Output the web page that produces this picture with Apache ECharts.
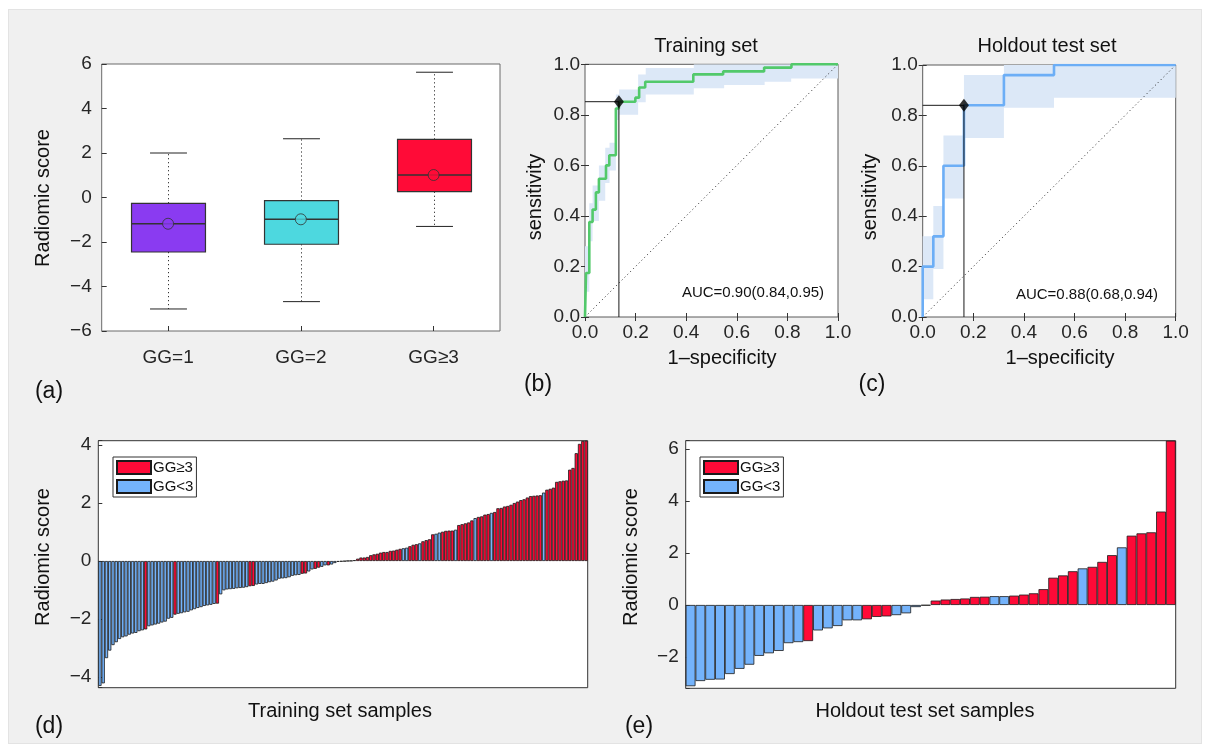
<!DOCTYPE html>
<html>
<head>
<meta charset="utf-8">
<script src="https://cdn.jsdelivr.net/npm/echarts@6/dist/echarts.min.js"></script>
<style>
  html, body { margin: 0; padding: 0; background: #ffffff; }
  #bg { position: absolute; left: 8px; top: 9px; width: 1194px; height: 735px; background: #F0F0F0; border: 1px solid #E3E3E3; box-sizing: border-box; }
  #chart { position: absolute; left: 0; top: 0; width: 1210px; height: 751px; }
</style>
</head>
<body>
<div id="bg"></div>
<div id="chart"></div>
<script>
// ---------------- DATA ----------------
// (a) box plot
const boxCats = ['GG=1', 'GG=2', 'GG≥3'];
const boxLow = [-5.01, -4.68, -1.30];
const boxQ1 = [-2.45, -2.10, 0.26];
const boxMedian = [-1.18, -0.98, 1.01];
const boxQ3 = [-0.26, -0.14, 2.61];
const boxHigh = [2.00, 2.64, 5.63];
const boxMean = [-1.18, -0.98, 1.01];
const boxTicks = [-6, -4, -2, 0, 2, 4, 6];

// (b) training ROC (staircase vertices)
const fprTrain = [0, 0.004, 0.004, 0.017, 0.017, 0.030, 0.030, 0.043, 0.043, 0.055, 0.055, 0.083, 0.083, 0.096, 0.096, 0.122, 0.122, 0.134, 0.134, 0.199, 0.199, 0.214, 0.214, 0.238, 0.238, 0.428, 0.428, 0.546, 0.546, 0.708, 0.708, 0.816, 0.816, 1.0];
const tprTrain = [0, 0, 0.174, 0.174, 0.376, 0.376, 0.425, 0.425, 0.493, 0.493, 0.547, 0.547, 0.600, 0.600, 0.640, 0.640, 0.825, 0.825, 0.852, 0.852, 0.868, 0.868, 0.908, 0.908, 0.931, 0.931, 0.960, 0.960, 0.972, 0.972, 0.987, 0.987, 1.0, 1.0];
const bandTrainX = [0, 0.017, 0.030, 0.055, 0.080, 0.097, 0.122, 0.135, 0.210, 0.240, 0.430, 0.550, 0.710, 0.815, 1.0];
const bandTrainLow = [0.10, 0.30, 0.38, 0.46, 0.53, 0.58, 0.78, 0.80, 0.85, 0.88, 0.905, 0.918, 0.931, 0.944];
const bandTrainHigh = [0.28, 0.45, 0.52, 0.60, 0.67, 0.69, 0.88, 0.90, 0.96, 0.985, 1.0, 1.0, 1.0, 1.0];
const cutTrain = [0.134, 0.852];
const aucTrain = 'AUC=0.90(0.84,0.95)';

// (c) holdout ROC
const fprTest = [0, 0, 0.042, 0.042, 0.082, 0.082, 0.163, 0.163, 0.321, 0.321, 0.519, 0.519, 1.0];
const tprTest = [0, 0.20, 0.20, 0.32, 0.32, 0.60, 0.60, 0.84, 0.84, 0.96, 0.96, 1.0, 1.0];
const bandTestX = [0, 0.042, 0.082, 0.163, 0.321, 0.519, 1.0];
const bandTestLow = [0.07, 0.19, 0.47, 0.71, 0.83, 0.87];
const bandTestHigh = [0.32, 0.44, 0.72, 0.96, 1.0, 1.0];
const cutTest = [0.163, 0.84];
const aucTest = 'AUC=0.88(0.68,0.94)';
const rocTicks = [0, 0.2, 0.4, 0.6, 0.8, 1.0];

// (d) training set samples: radiomic score, 1 = GG≥3, 0 = GG<3
const trainScore = [
 -4.31, -4.22, -3.35, -3.09, -2.90, -2.80, -2.69, -2.63, -2.60, -2.54,
 -2.50, -2.48, -2.42, -2.39, -2.36, -2.25, -2.22, -2.19, -2.16, -2.12,
 -2.09, -1.99, -1.96, -1.85, -1.82, -1.80, -1.77, -1.75, -1.70, -1.66,
 -1.62, -1.59, -1.55, -1.53, -1.51, -1.48, -1.47, -1.15, -1.01, -0.98,
 -0.97, -0.96, -0.94, -0.93, -0.92, -0.90, -0.87, -0.86, -0.81, -0.79,
 -0.79, -0.76, -0.73, -0.71, -0.67, -0.61, -0.60, -0.59, -0.56, -0.51,
 -0.49, -0.48, -0.44, -0.43, -0.36, -0.29, -0.27, -0.23, -0.20, -0.15,
 -0.15, -0.12, -0.07, -0.03, -0.02, -0.01, 0.005, 0.01, 0.03, 0.08,
 0.12, 0.12, 0.14, 0.20, 0.23, 0.25, 0.29, 0.31, 0.31, 0.35,
 0.36, 0.39, 0.42, 0.44, 0.46, 0.51, 0.56, 0.58, 0.61, 0.68,
 0.72, 0.75, 0.92, 0.94, 0.98, 1.01, 1.04, 1.05, 1.05, 1.08,
 1.24, 1.27, 1.30, 1.33, 1.40, 1.48, 1.52, 1.54, 1.60, 1.62,
 1.66, 1.69, 1.82, 1.83, 1.88, 1.90, 1.94, 2.00, 2.05, 2.10,
 2.13, 2.19, 2.24, 2.25, 2.26, 2.27, 2.36, 2.46, 2.49, 2.53,
 2.73, 2.75, 2.77, 2.78, 3.15, 3.21, 3.72, 4.04, 4.14, 4.15
];
const trainHigh = [
 0,0,0,0,0,0,0,0,0,0,
 0,0,0,0,1,0,0,0,0,0,
 0,0,0,1,0,0,0,0,0,0,
 0,0,0,0,0,0,1,0,0,0,
 0,0,0,0,0,0,1,1,0,0,
 0,0,0,0,0,0,0,0,0,0,
 0,0,1,1,0,0,1,1,0,0,
 1,0,0,0,0,0,1,1,1,1,
 1,1,1,1,1,1,1,1,1,1,
 1,1,1,0,0,1,1,1,0,1,
 1,1,1,0,0,1,1,1,1,0,
 1,1,1,1,1,0,1,1,1,1,
 0,1,1,1,1,1,1,1,1,1,
 1,1,1,1,1,1,0,1,1,1,
 1,1,1,1,1,1,1,1,1,1
];
const trainYMin = -4.37, trainYMax = 4.15;

// (e) holdout test set samples
const testScore = [
 -3.13, -2.93, -2.88, -2.87, -2.66, -2.46, -2.30, -1.96, -1.86, -1.77,
 -1.47, -1.43, -1.39, -0.98, -0.90, -0.81, -0.59, -0.59, -0.55, -0.46,
 -0.44, -0.39, -0.32, -0.08, -0.02, 0.17, 0.21, 0.23, 0.25, 0.31,
 0.32, 0.34, 0.34, 0.36, 0.40, 0.45, 0.61, 1.05, 1.14, 1.30,
 1.41, 1.47, 1.66, 1.92, 2.22, 2.67, 2.76, 2.80, 3.60, 6.33
];
const testHigh = [
 0,0,0,0,0,0,0,0,0,0,
 0,0,1,0,0,0,0,0,1,1,
 1,0,0,0,0,1,1,1,1,1,
 1,0,0,1,1,1,1,1,1,1,
 0,1,1,1,0,1,1,1,1,1
];
const testYMin = -3.21, testYMax = 6.33;

const legendNames = ['GG≥3', 'GG<3'];

// ---------------- STYLE ----------------
const FONT = '"Liberation Sans", Arial, Helvetica, sans-serif';
const TXT = '#262626';
const boxColors = ['#8A3BF1', '#4DD8DF', '#FF0B37'];
const RED = '#FF0A37', BLUE = '#74B3FB';
const BAND = '#DCE8F7';
const GREEN = '#52C96B', LINEBLUE = '#6CAEF6';

function minusFmt(v) { return v < 0 ? '\u2212' + Math.abs(v) : String(v); }
function evenOnly(v) {
  const r = Math.round(v);
  return (Math.abs(v - r) < 1e-6 && r % 2 === 0) ? minusFmt(r) : '';
}

const chart = echarts.init(document.getElementById('chart'), null, { renderer: 'canvas' });

function frameGrid(left, top, width, height, border) {
  return { left, top, width, height, show: true, backgroundColor: '#ffffff',
           borderColor: border, borderWidth: 1, containLabel: false, outerBoundsMode: 'none' };
}
const grids = [
  frameGrid(101.7, 64, 398.3, 267, '#6a6a6a'),
  frameGrid(585, 64.3, 253, 252.7, '#5a5a5a'),
  frameGrid(922.7, 65, 253, 252, '#5a5a5a'),
  frameGrid(98.3, 440.7, 489.4, 247, '#333333'),
  frameGrid(685.7, 440.7, 490, 247.6, '#333333')
];

const tickIn = (len, color) => ({ show: true, inside: true, length: len, lineStyle: { color: color || '#333', width: 1 } });
const lbl = (extra) => Object.assign({ fontSize: 19, color: TXT, fontFamily: FONT }, extra);

function rocX(gi, pos, showLbl) {
  return { type: 'value', gridIndex: gi, position: pos, min: 0, max: 1, interval: 0.2,
    axisLine: { show: false }, axisTick: tickIn(4),
    axisLabel: showLbl ? lbl({ margin: 6, formatter: v => v.toFixed(1) }) : { show: false },
    splitLine: { show: false } };
}
function rocY(gi, pos, showLbl) {
  return { type: 'value', gridIndex: gi, position: pos, min: 0, max: 1, interval: 0.2,
    axisLine: { show: false }, axisTick: tickIn(4),
    axisLabel: showLbl ? lbl({ margin: 5, formatter: v => v.toFixed(1) }) : { show: false },
    splitLine: { show: false } };
}

const xAxes = [
  { type: 'category', gridIndex: 0, data: boxCats, boundaryGap: true,
    axisLine: { show: false, onZero: false }, axisTick: Object.assign(tickIn(5), { alignWithLabel: true }),
    axisLabel: lbl({ margin: 17 }), splitLine: { show: false } },
  rocX(1, 'bottom', true), rocX(1, 'top', false),
  rocX(2, 'bottom', true), rocX(2, 'top', false),
  { type: 'category', gridIndex: 3, data: trainScore.map((v, i) => i + 1),
    axisLine: { show: false, onZero: false }, axisTick: { show: false }, axisLabel: { show: false }, splitLine: { show: false } },
  { type: 'category', gridIndex: 4, data: testScore.map((v, i) => i + 1),
    axisLine: { show: false, onZero: false }, axisTick: { show: false }, axisLabel: { show: false }, splitLine: { show: false } }
];
const yAxes = [
  { type: 'value', gridIndex: 0, min: boxTicks[0], max: boxTicks[boxTicks.length - 1], interval: 2,
    axisLine: { show: false }, axisTick: tickIn(5), axisLabel: lbl({ margin: 10, formatter: minusFmt }), splitLine: { show: false } },
  rocY(1, 'left', true), rocY(1, 'right', false),
  rocY(2, 'left', true), rocY(2, 'right', false),
  { type: 'value', gridIndex: 3, min: trainYMin, max: trainYMax, splitNumber: 4,
    axisLine: { show: false }, axisTick: tickIn(4), axisLabel: lbl({ margin: 7, formatter: evenOnly, showMinLabel: true, showMaxLabel: true }), splitLine: { show: false } },
  { type: 'value', gridIndex: 4, min: testYMin, max: testYMax, splitNumber: 5,
    axisLine: { show: false }, axisTick: tickIn(4), axisLabel: lbl({ margin: 7, formatter: evenOnly, showMinLabel: true, showMaxLabel: true }), splitLine: { show: false } }
];

// ---- box plot (custom) ----
function renderBox(params, api) {
  const i = params.dataIndex;
  const lo = api.coord([i, api.value(1)]);
  const q1 = api.coord([i, api.value(2)]);
  const md = api.coord([i, api.value(3)]);
  const q3 = api.coord([i, api.value(4)]);
  const hi = api.coord([i, api.value(5)]);
  const band = api.size([1, 0])[0];
  const bw = band * 0.557, cw = band * 0.278;
  const cx = Math.round(md[0]) + 0.5;
  const dash = { stroke: '#333', lineWidth: 1, lineDash: [1.2, 2.8] };
  const solid = { stroke: '#222', lineWidth: 1 };
  return { type: 'group', children: [
    { type: 'line', shape: { x1: cx, y1: q3[1], x2: cx, y2: hi[1] }, style: dash },
    { type: 'line', shape: { x1: cx, y1: q1[1], x2: cx, y2: lo[1] }, style: dash },
    { type: 'line', shape: { x1: cx - cw / 2, y1: hi[1], x2: cx + cw / 2, y2: hi[1] }, style: solid },
    { type: 'line', shape: { x1: cx - cw / 2, y1: lo[1], x2: cx + cw / 2, y2: lo[1] }, style: solid },
    { type: 'rect', shape: { x: cx - bw / 2, y: q3[1], width: bw, height: q1[1] - q3[1] },
      style: { fill: boxColors[i], stroke: '#333', lineWidth: 1.2 } },
    { type: 'line', shape: { x1: cx - bw / 2, y1: md[1], x2: cx + bw / 2, y2: md[1] }, style: { stroke: '#333', lineWidth: 1.5 } }
  ] };
}

function makeBand(xs, low, high, color) {
  return function (params, api) {
    const pts = [];
    for (let i = 0; i < low.length; i++) {
      pts.push(api.coord([xs[i], high[i]]), api.coord([xs[i + 1], high[i]]));
    }
    for (let i = low.length - 1; i >= 0; i--) {
      pts.push(api.coord([xs[i + 1], low[i]]), api.coord([xs[i], low[i]]));
    }
    return { type: 'polygon', shape: { points: pts }, style: { fill: color } };
  };
}

function rocSeries(xi, yi, fpr, tpr, bx, bl, bh, cut, color) {
  return [
    { type: 'custom', xAxisIndex: xi, yAxisIndex: yi, data: [[0, 0]], encode: { x: 0, y: 1 },
      renderItem: makeBand(bx, bl, bh, BAND), z: 1, silent: true, clip: true },
    { type: 'line', xAxisIndex: xi, yAxisIndex: yi, data: [[0, 0], [1, 1]], symbol: 'none',
      lineStyle: { color: '#222', width: 1, type: [1, 3] }, z: 2, silent: true },
    { type: 'line', xAxisIndex: xi, yAxisIndex: yi, data: fpr.map((x, i) => [x, tpr[i]]), symbol: 'none',
      lineStyle: { color: color, width: 2.6 }, z: 3, silent: true, clip: true },
    { type: 'line', xAxisIndex: xi, yAxisIndex: yi, data: [[0, cut[1]], [cut[0], cut[1]], [cut[0], 0]], symbol: 'none',
      lineStyle: { color: '#1a1a1a', width: 1 }, z: 4, silent: true },
    { type: 'scatter', xAxisIndex: xi, yAxisIndex: yi, data: [cut], symbol: 'diamond', symbolSize: [10, 13],
      itemStyle: { color: '#000' }, z: 5, silent: true }
  ];
}

function barSeries(xi, yi, scores, groups) {
  const common = { type: 'bar', xAxisIndex: xi, yAxisIndex: yi, barGap: '-100%', barCategoryGap: '0%', silent: true };
  return [
    Object.assign({}, common, { name: legendNames[0],
      data: scores.map((v, i) => groups[i] === 1 ? v : '-'),
      itemStyle: { color: RED, borderColor: '#1a1a1a', borderWidth: 0.8 } }),
    Object.assign({}, common, { name: legendNames[1],
      data: scores.map((v, i) => groups[i] === 0 ? v : '-'),
      itemStyle: { color: BLUE, borderColor: '#1a1a1a', borderWidth: 0.8 } })
  ];
}

function legendAt(left, top) {
  return { data: legendNames, orient: 'vertical', left: left, top: top, icon: 'rect',
    itemWidth: 34, itemHeight: 13, itemGap: 4, selectedMode: false,
    backgroundColor: '#ffffff', borderColor: '#333', borderWidth: 1, borderRadius: 0,
    padding: [3, 3, 3, 3], textStyle: { fontSize: 15, color: '#111', fontFamily: FONT, padding: [0, 0, 0, -3] } };
}

function txt(x, y, text, size, rot, extra) {
  return Object.assign({ type: 'text', x: x, y: y, rotation: rot || 0, silent: true,
    style: { text: text, fontSize: size, fontFamily: FONT, fill: '#111', align: 'center', verticalAlign: 'middle' } }, extra || {});
}

const option = {
  animation: false,
  backgroundColor: 'transparent',
  textStyle: { fontFamily: FONT },
  grid: grids,
  xAxis: xAxes,
  yAxis: yAxes,
  legend: [legendAt(113, 457), legendAt(700, 457)],
  series: [
    { type: 'custom', xAxisIndex: 0, yAxisIndex: 0, renderItem: renderBox, silent: true,
      data: boxCats.map((c, i) => [i, boxLow[i], boxQ1[i], boxMedian[i], boxQ3[i], boxHigh[i]]),
      encode: { x: 0, y: [1, 2, 3, 4, 5] }, z: 2 },
    { type: 'scatter', xAxisIndex: 0, yAxisIndex: 0, symbol: 'circle', symbolSize: 11, silent: true, z: 3,
      data: boxMean.map((v, i) => ({ value: [i, v], itemStyle: { color: boxColors[i], borderColor: '#333', borderWidth: 1 } })) },
    ...rocSeries(1, 1, fprTrain, tprTrain, bandTrainX, bandTrainLow, bandTrainHigh, cutTrain, GREEN),
    ...rocSeries(3, 3, fprTest, tprTest, bandTestX, bandTestLow, bandTestHigh, cutTest, LINEBLUE),
    ...barSeries(5, 5, trainScore, trainHigh),
    ...barSeries(6, 6, testScore, testHigh)
  ],
  graphic: [
    txt(43, 198, 'Radiomic score', 20, Math.PI / 2),
    txt(49, 392, '(a)', 23),
    txt(706, 46, 'Training set', 20),
    txt(1047, 46, 'Holdout test set', 20),
    txt(535, 197, 'sensitivity', 20, Math.PI / 2),
    txt(870, 197, 'sensitivity', 20, Math.PI / 2),
    txt(722, 358, '1\u2013specificity', 20),
    txt(1060, 358, '1\u2013specificity', 20),
    txt(753, 293, aucTrain, 15),
    txt(1087, 295, aucTest, 15),
    txt(538, 385, '(b)', 23),
    txt(872, 385, '(c)', 23),
    txt(43, 557, 'Radiomic score', 20, Math.PI / 2),
    txt(631, 557, 'Radiomic score', 20, Math.PI / 2),
    txt(340, 711, 'Training set samples', 20),
    txt(925, 711, 'Holdout test set samples', 20),
    txt(49, 727, '(d)', 23),
    txt(639, 727, '(e)', 23)
  ]
};
chart.setOption(option);
</script>
</body>
</html>
